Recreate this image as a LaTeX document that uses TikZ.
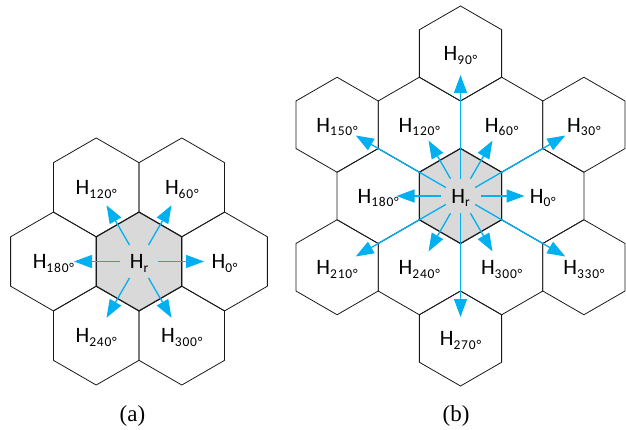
\documentclass[tikz,border=0pt]{standalone}
\usepackage{fontspec}
\setmainfont{Carlito}
\newfontfamily\capfont{Liberation Serif}
\newfontfamily\subfont[LetterSpace=6]{Carlito}
\usetikzlibrary{arrows.meta,calc}
\definecolor{arrblue}{HTML}{00B0F0}
\definecolor{hexgray}{HTML}{D9D9D9}
\newcommand{\hlab}[1]{H\raisebox{-3.5pt}{\subfont\fontsize{13.5}{14}\selectfont #1}}
\newcommand{\hexdraw}[3]{\draw[#3] (#1) ++(0,#2) -- ++(210:#2) -- ++(270:#2) -- ++(330:#2) -- ++(30:#2) -- ++(90:#2) -- cycle;}
\begin{document}
\begin{tikzpicture}[x=1pt,y=1pt,
  hexline/.style={draw=black!90, line width=0.8pt, line join=miter},
  centerhex/.style={hexline, fill=hexgray, line width=1.2pt},
  arr/.style={draw=arrblue, line width=1.3pt, -{Triangle[length=18pt,width=13pt]}},
  lab/.style={anchor=base, inner sep=0pt, font=\fontsize{22}{24}\selectfont},
  captext/.style={font=\capfont\fontsize{23}{26}\selectfont, inner sep=0pt}]
\useasboundingbox (0,-430) rectangle (626,0);

% ---------- (a) ----------
\def\Ra{49.4}
\coordinate (ca) at (139,-261.5);
\foreach \a in {0,60,...,300}{
  \coordinate (ca\a) at ($(ca)+(\a:85.6)$);
  \hexdraw{ca\a}{\Ra}{hexline}
}
\hexdraw{ca}{\Ra}{centerhex}
\foreach \a in {0,60,...,300}{
  \draw[arr] ($(ca)!19pt!(ca\a)$) -- ($(ca)!65pt!(ca\a)$);
}
\node[lab] (lar) at ($(ca)+(0,-7.3)$) {\hlab{r}};
\foreach \a in {0,60,...,300}{
  \node[lab] (la\a) at ($(ca\a)+(0,-7.3)$) {\hlab{\a°}};
}
\node[captext] (capa) at (132.5,-416) {(a)};

% ---------- (b) ----------
\def\Rb{47.5}
\coordinate (cb) at (460.5,-196);
\foreach \a in {0,60,...,300}{
  \coordinate (cb\a) at ($(cb)+(\a:82.3)$);
  \hexdraw{cb\a}{\Rb}{hexline}
}
\foreach \a in {30,90,...,330}{
  \coordinate (cb\a) at ($(cb)+(\a:142.5)$);
  \hexdraw{cb\a}{\Rb}{hexline}
}
\hexdraw{cb}{\Rb}{centerhex}
\foreach \a in {0,60,...,300}{
  \draw[arr] ($(cb)!20pt!(cb\a)$) -- ($(cb)!64pt!(cb\a)$);
}
\foreach \a in {30,90,...,330}{
  \draw[arr] ($(cb)!17pt!(cb\a)$) -- ($(cb)!121pt!(cb\a)$);
}
\node[lab] (lbr) at ($(cb)+(0,-7.3)$) {\hlab{r}};
\foreach \a in {0,30,...,330}{
  \node[lab] (lb\a) at ($(cb\a)+(0,-7.3)$) {\hlab{\a°}};
}
\node[captext] (capb) at (456,-416) {(b)};
\end{tikzpicture}
\end{document}
